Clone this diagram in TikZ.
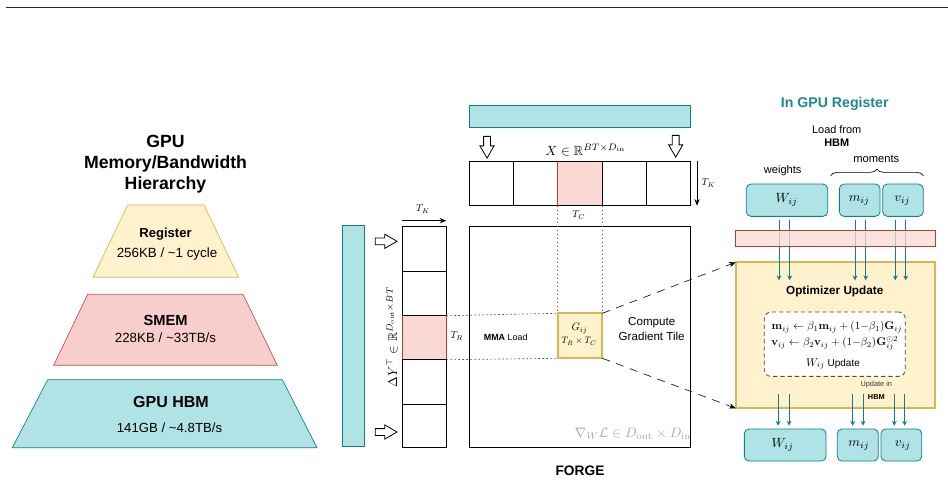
\documentclass[tikz,border=0pt]{standalone}
\usepackage{amsmath,amssymb}
\usepackage[no-math]{fontspec}
\setmainfont{Liberation Sans}
\usetikzlibrary{arrows.meta,decorations.pathreplacing,shapes.arrows}
\definecolor{tealF}{HTML}{B0E3E6}
\definecolor{tealS}{HTML}{0E8088}
\definecolor{pinkF}{HTML}{F8CECC}
\definecolor{pinkS}{HTML}{B85450}
\definecolor{pink2F}{HTML}{FAD9D5}
\definecolor{pink2S}{HTML}{AE4132}
\definecolor{yelF}{HTML}{FFF2CC}
\definecolor{yelS}{HTML}{D6B656}
\definecolor{titleT}{HTML}{1A8A8E}
\newcommand{\px}[1]{\fontsize{#1}{#1}\selectfont}
\tikzset{
  x=0.75pt,y=-0.75pt,
  sz/.style 2 args={minimum width=#1*0.75pt,minimum height=#2*0.75pt,inner sep=0pt,outer sep=0pt,anchor=center},
  cell/.style={draw=black,line width=0.6pt},
  tealbar/.style={draw=tealS,fill=tealF,line width=0.6pt},
  tealbox/.style={draw=tealS,fill=tealF,line width=0.6pt,rounded corners=3.5pt},
  pinkcell/.style={draw=pink2S,fill=pink2F,line width=0.6pt},
  blockdown/.style={draw=black,fill=white,line width=0.6pt,single arrow,shape border rotate=270,inner sep=2.25pt,outer sep=0pt,minimum width=10pt,single arrow head extend=2.75pt,minimum height=16.3pt,single arrow tip angle=60},
  blockright/.style={blockdown,shape border rotate=0},
  regarrow/.style={draw=tealS,line width=0.65pt,-{Stealth[length=3.6pt,width=3.6pt]}},
  dotline/.style={draw=black!70,line width=0.5pt,dash pattern=on 1.3pt off 1.7pt},
  zoomline/.style={draw=black,line width=0.45pt,dash pattern=on 6pt off 5pt,-{Stealth[length=5pt,width=4pt]}},
  measure/.style={draw=black,line width=0.6pt,-{Stealth[length=5pt,width=4pt]}},
  txt/.style={inner sep=0pt,outer sep=0pt,align=center,text=black},
  mth/.style={txt,font=\px{10},scale=#1},
}
\begin{document}
\begin{tikzpicture}
\useasboundingbox (0,0) rectangle (948,483);
\coordinate (ruleL) at (6,7);
\coordinate (ruleR) at (948,7);
\draw[black!85,line width=0.75pt] (ruleL) -- (ruleR);

% pyramid
\draw[draw=yelS,fill=yelF,line width=0.5pt] (127.7,205) -- (204,205) -- (238.7,277.3) -- (93,277.3) -- cycle;
\draw[draw=pinkS,fill=pinkF,line width=0.5pt] (87.7,294.3) -- (243,294.3) -- (277.3,365.3) -- (53.7,365.3) -- cycle;
\draw[draw=tealS,fill=tealF,line width=0.5pt] (47.7,379.7) -- (282.3,379.7) -- (317,447.7) -- (12.3,447.7) -- cycle;
\node[txt,font=\bfseries\px{13.25}] (tA) at (165.5,141.5) {GPU};
\node[txt,font=\bfseries\px{13.25}] (tB) at (165.5,163.5) {Memory/Bandwidth};
\node[txt,font=\bfseries\px{13.25}] (tC) at (165.5,185) {Hierarchy};
\node[txt,font=\bfseries\px{9.8}] (pA) at (165.5,234.5) {Register};
\node[txt,font=\px{10}] (pB) at (167,254) {256KB / \textasciitilde 1 cycle};
\node[txt,font=\bfseries\px{11}] (pC) at (165.5,320.5) {SMEM};
\node[txt,font=\px{10}] (pD) at (165.5,338) {228KB / \textasciitilde 33TB/s};
\node[txt,font=\bfseries\px{12}] (pE) at (171,402) {GPU HBM};
\node[txt,font=\px{9.9}] (pF) at (169.5,428) {141GB / \textasciitilde 4.8TB/s};

% left bar and column
\node[tealbar,sz={22.4}{221.3}] (leftbar) at (353.5,335.7) {};
\node[cell,sz={44.3}{44.8}] (c1) at (424.2,248.8) {};
\node[cell,sz={44.3}{44.4}] (c2) at (424.2,293.5) {};
\node[pinkcell,sz={44.3}{44}] (c3) at (424.2,337.7) {};
\node[cell,sz={44.3}{44.3}] (c4) at (424.2,381.8) {};
\node[cell,sz={44.3}{43.7}] (c5) at (424.2,425.8) {};
\draw[black,line width=0.6pt] (c3.north west) -- (c3.north east) (c3.south west) -- (c3.south east);
\node[blockright] (ra) at (383.2,241.3) {};
\node[blockright] (rb) at (383.2,432) {};
\coordinate (tkL) at (402,220.7);
\coordinate (tkR) at (446.3,220.7);
\draw[measure] (tkL) -- (tkR);
\node[mth=0.75] (tkl) at (423,209) {$T_K$};
\node[mth=0.96,rotate=90] (ylab) at (392,337) {$\Delta Y^\top\in\mathbb{R}^{D_{\mathrm{out}}\times BT}$};
\node[mth=0.75] (trl) at (456.7,336) {$T_R$};

% top bar and strip
\node[tealbar,sz={221.4}{22}] (topbar) at (580,116.3) {};
\node[blockdown] (da) at (487,144.3) {};
\node[blockdown] (db) at (675.7,143.3) {};
\node[cell,sz={44.4}{44.7}] (s1) at (491.5,183.3) {};
\node[cell,sz={44}{44.7}] (s2) at (535.7,183.3) {};
\node[pinkcell,sz={44.6}{44.7}] (s3) at (580,183.3) {};
\node[cell,sz={44}{44.7}] (s4) at (624.3,183.3) {};
\node[cell,sz={44.4}{44.7}] (s5) at (668.5,183.3) {};
\draw[black,line width=0.6pt] (s3.north west) -- (s3.north east) (s3.south west) -- (s3.south east);
\node[mth=1] (xlab) at (585.5,150) {$X\in\mathbb{R}^{BT\times D_{\mathrm{in}}}$};
\coordinate (tkT) at (697,161);
\coordinate (tkB) at (697,205.7);
\draw[measure] (tkT) -- (tkB);
\node[mth=0.75] (tkr) at (708.5,183) {$T_K$};
\node[mth=0.75] (tcl) at (578.7,215) {$T_C$};

% main box
\node[cell,sz={221.4}{221.4}] (main) at (580,337) {};
\node[draw=yelS,fill=yelF,line width=1.5pt,sz={44.6}{45}] (G) at (580,335.8) {};
\draw[dotline] (s3.south west) -- (G.north west);
\draw[dotline] (s3.south east) -- (G.north east);
\draw[dotline] (c3.north east) -- (G.north west);
\draw[dotline] (c3.south east) -- (G.south west);
\node[mth=0.8] (gl) at (579.5,328.7) {$G_{ij}$};
\node[mth=0.7] (gs) at (579,341.5) {$T_R\times T_C$};
\node[txt,font=\px{6.7}] (mma) at (505.7,337) {\textbf{MMA} Load};
\node[txt,font=\px{8.7},align=center] (cgt) at (651.7,329) {Compute\\[2pt]Gradient Tile};
\node[mth=1.03,text=black!35,anchor=east] (nab) at (691,434) {$\nabla_W\mathcal{L}\in D_{\mathrm{out}}\times D_{\mathrm{in}}$};
\node[txt,font=\bfseries\px{10.3}] (forge) at (580,471) {FORGE};

% right panel
\node[txt,font=\bfseries\px{10.6},text=titleT] (reg) at (834.7,103.5) {In GPU Register};
\node[txt,font=\px{8.2}] (load) at (836.7,129.5) {Load from};
\node[txt,font=\bfseries\px{8.2}] (hbmT) at (836.7,142.7) {HBM};
\node[txt,font=\px{8.4}] (mom) at (876.3,158.5) {moments};
\node[txt,font=\px{8.3}] (wei) at (782.7,170.5) {weights};
\node[tealbox,sz={81.4}{32.3}] (W) at (787,200.2) {};
\node[tealbox,sz={40.7}{32.3}] (m) at (859.7,200.2) {};
\node[tealbox,sz={40.6}{32.3}] (v) at (903,200.2) {};
\node[mth=1] (Wl) at (786.7,199.5) {$W_{ij}$};
\node[mth=1] (ml) at (859.3,200.5) {$m_{ij}$};
\node[mth=1] (vl) at (902.3,200.5) {$v_{ij}$};
\coordinate (brL) at (830.7,175.7);
\coordinate (brR) at (923.3,175.7);
\draw[black,line width=0.5pt,decorate,decoration={brace,amplitude=5pt}] (brL) -- (brR);

\node[draw=yelS,fill=yelF,line width=1.5pt,sz={199}{146}] (Y) at (835.2,335.3) {};

\coordinate (endT) at (0,280.3);
\foreach \n/\xx in {a/779,b/789.7}{\coordinate (t\n) at (\xx,0); \draw[regarrow,shorten <=2.5pt] (t\n |- W.south) -- (t\n |- endT);}
\foreach \n/\xx in {c/855,d/865.7}{\coordinate (t\n) at (\xx,0); \draw[regarrow,shorten <=2.5pt] (t\n |- m.south) -- (t\n |- endT);}
\foreach \n/\xx in {e/895.3,f/905.7}{\coordinate (t\n) at (\xx,0); \draw[regarrow,shorten <=2.5pt] (t\n |- v.south) -- (t\n |- endT);}
\node[draw=pink2S,fill=pink2F,fill opacity=0.75,line width=0.6pt,sz={200.7}{16.7}] (pbar) at (835.4,238.4) {};

\draw[zoomline] (G.north east) -- (Y.north west);
\draw[zoomline] (G.south east) -- (Y.south west);

\node[txt,font=\bfseries\px{8.8}] (opt) at (834.7,291) {Optimizer Update};
\node[draw=black!70,fill=white,dash pattern=on 3.2pt off 2.2pt,line width=0.6pt,rounded corners=5pt,sz={141}{64.3}] (D) at (834.8,344.2) {};
\node[mth=0.83] (f1) at (837,327) {$\mathbf{m}_{ij}\leftarrow\beta_1\mathbf{m}_{ij}+(1{-}\beta_1)\mathbf{G}_{ij}$};
\node[mth=0.83] (f2) at (834.7,343.3) {$\mathbf{v}_{ij}\leftarrow\beta_2\mathbf{v}_{ij}+(1{-}\beta_2)\mathbf{G}_{ij}^{\odot 2}$};
\node[txt,font=\px{7.5}] (f3) at (833,364) {\scalebox{0.85}{\px{10}$W_{ij}$} Update};
\node[txt,font=\px{5.5},text=black!80] (up) at (876.3,384.7) {Update in};
\node[txt,font=\bfseries\px{5.5}] (uph) at (876.3,396.7) {HBM};

\node[tealbox,sz={81.7}{32}] (W2) at (785.2,445) {};
\node[tealbox,sz={41}{32}] (m2) at (857.8,445) {};
\node[tealbox,sz={40.7}{32}] (v2) at (901.3,445) {};
\node[mth=1] (W2l) at (782.7,445) {$W_{ij}$};
\node[mth=1] (m2l) at (859,446) {$m_{ij}$};
\node[mth=1] (v2l) at (902.7,446) {$v_{ij}$};
\coordinate (startB) at (0,394.3);
\coordinate (endB) at (0,425.7);
\foreach \n/\xx in {a/778,b/789,c/852.7,d/863,e/894.3,f/904.7}{\coordinate (b\n) at (\xx,0); \draw[regarrow] (b\n |- startB) -- (b\n |- endB);}
\end{tikzpicture}
\end{document}
